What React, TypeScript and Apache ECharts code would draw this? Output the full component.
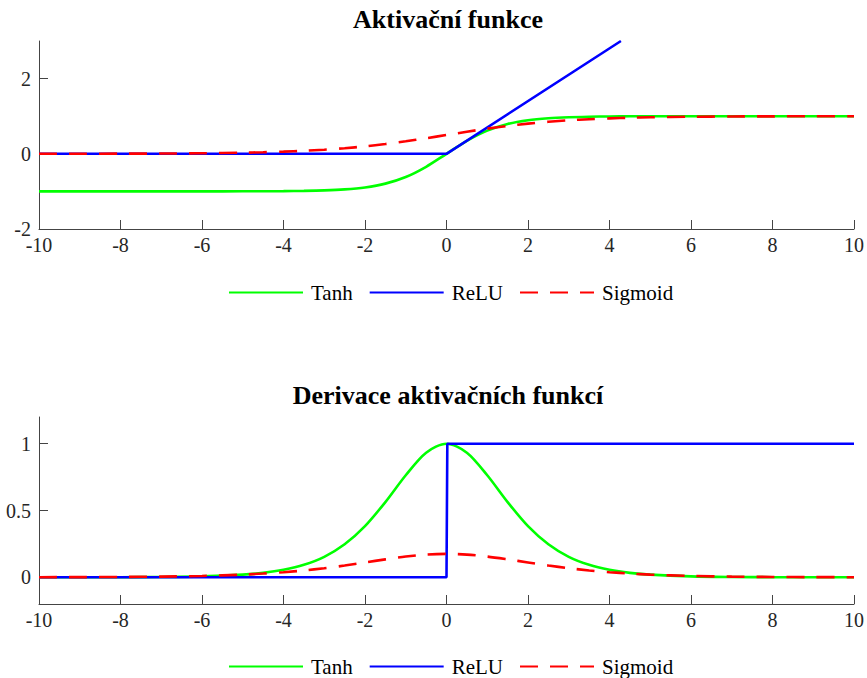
import React, { useEffect, useRef } from 'react';
import * as echarts from 'echarts';

// shared sample positions (x)
const xValues = [-10, -9, -8, -7, -6, -5, -4.5, -4, -3.5, -3, -2.5, -2, -1.5, -1, -0.5, 0, 0.5, 1, 1.5, 2, 2.5, 3, 3.5, 4, 4.5, 5, 6, 7, 8, 9, 10];

// top panel: activation functions
const tanhValues = [-1, -1, -1, -1, -0.9996, -0.998, -0.997, -0.994, -0.987, -0.974, -0.947, -0.894, -0.793, -0.617, -0.345, 0, 0.345, 0.617, 0.793, 0.894, 0.947, 0.974, 0.987, 0.994, 0.997, 0.998, 0.9996, 1, 1, 1, 1];
const sigmoidValues = [0.0009, 0.0018, 0.0037, 0.0074, 0.0148, 0.0293, 0.0411, 0.0573, 0.0794, 0.1091, 0.148, 0.1978, 0.2592, 0.3318, 0.4134, 0.5, 0.5866, 0.6682, 0.7408, 0.8022, 0.852, 0.8909, 0.9206, 0.9427, 0.9589, 0.9707, 0.9852, 0.9926, 0.9963, 0.9982, 0.9991];
const reluX = [-10, 0, 4.28];
const reluValues = [0, 0, 3];

// bottom panel: derivatives
const dTanhValues = [0.0001, 0.0003, 0.0008, 0.0024, 0.007, 0.0197, 0.033, 0.056, 0.093, 0.153, 0.247, 0.383, 0.563, 0.764, 0.933, 1, 0.933, 0.764, 0.563, 0.383, 0.247, 0.153, 0.093, 0.056, 0.033, 0.0197, 0.007, 0.0024, 0.0008, 0.0003, 0.0001];
const dSigmoidValues = [0.0006, 0.0013, 0.0026, 0.005, 0.01, 0.02, 0.028, 0.038, 0.051, 0.068, 0.088, 0.111, 0.134, 0.155, 0.17, 0.175, 0.17, 0.155, 0.134, 0.111, 0.088, 0.068, 0.051, 0.038, 0.028, 0.02, 0.01, 0.005, 0.0026, 0.0013, 0.0006];
const dReluX = [-10, 0, 0.02, 10];
const dReluValues = [0, 0, 1, 1];

// axis ticks / labels
const topYTicks = [-2, 0, 2];
const bottomYTicks = [0, 0.5, 1];
const seriesNames = ['Tanh', 'ReLU', 'Sigmoid'];
const titles = ['Aktivační funkce', 'Derivace aktivačních funkcí'];

const FONT = '"Liberation Serif", "Times New Roman", serif';
const AXIS_COLOR = '#444';
const LABEL_COLOR = '#262626';
const GREEN = '#00ff00';
const BLUE = '#0000ff';
const RED = '#ff0000';

const pairs = (xs: number[], ys: number[]) => xs.map((x, i) => [x, ys[i]]);

function makeXAxis(gridIndex: number) {
  return {
    type: 'value',
    gridIndex,
    min: -10,
    max: 10,
    interval: 2,
    axisLine: { show: true, onZero: false, lineStyle: { color: AXIS_COLOR, width: 1 } },
    axisTick: { show: true, inside: true, length: 9, lineStyle: { color: AXIS_COLOR, width: 1 } },
    axisLabel: { show: true, margin: 6, color: LABEL_COLOR, fontFamily: FONT, fontSize: 20 },
    splitLine: { show: false },
  };
}

function makeYAxis(gridIndex: number, min: number, max: number, ticks: number[]) {
  return {
    type: 'value',
    gridIndex,
    min,
    max,
    axisLine: { show: true, onZero: false, lineStyle: { color: AXIS_COLOR, width: 1 } },
    axisTick: { show: true, inside: true, length: 9, customValues: ticks, lineStyle: { color: AXIS_COLOR, width: 1 } },
    axisLabel: { show: true, margin: 8, color: LABEL_COLOR, fontFamily: FONT, fontSize: 20, customValues: ticks },
    splitLine: { show: false },
  };
}

function lineSeries(name: string, data: number[][], idx: number, color: string, dashed: boolean, smooth: boolean) {
  return {
    type: 'line',
    name,
    xAxisIndex: idx,
    yAxisIndex: idx,
    data,
    symbol: 'none',
    showSymbol: false,
    smooth: smooth ? 0.3 : false,
    lineStyle: { color, width: 2.6, type: dashed ? [18, 12] : 'solid' },
    itemStyle: { color },
    emphasis: { disabled: true },
    z: 2,
  };
}

function makeLegend(top: number) {
  return {
    top,
    left: 228,
    padding: 0,
    orient: 'horizontal',
    data: seriesNames,
    itemWidth: 74,
    itemHeight: 4,
    itemGap: 16,
    selectedMode: false,
    itemStyle: { opacity: 0 },
    textStyle: { fontFamily: FONT, fontSize: 21, color: '#000', padding: [0, 0, 0, 3] },
  };
}

export default function App() {
  const ref = useRef<HTMLDivElement>(null);
  useEffect(() => {
    if (!ref.current) return;
    const chart = echarts.init(ref.current, null, { renderer: 'svg' });
    chart.setOption({
      animation: false,
      backgroundColor: '#ffffff',
      grid: [
        { left: 39, top: 41, width: 816, height: 188, containLabel: false },
        { left: 39, top: 417, width: 816, height: 187, containLabel: false },
      ],
      xAxis: [makeXAxis(0), makeXAxis(1)],
      yAxis: [makeYAxis(0, -2, 3, topYTicks), makeYAxis(1, -0.2, 1.2, bottomYTicks)],
      legend: [makeLegend(282), makeLegend(656)],
      graphic: [
        {
          type: 'text',
          x: 448,
          y: 19,
          style: { text: titles[0], font: `bold 26px ${FONT}`, fill: '#000', align: 'center', verticalAlign: 'middle' },
        },
        {
          type: 'text',
          x: 448,
          y: 395,
          style: { text: titles[1], font: `bold 26px ${FONT}`, fill: '#000', align: 'center', verticalAlign: 'middle' },
        },
      ],
      series: [
        lineSeries('Tanh', pairs(xValues, tanhValues), 0, GREEN, false, true),
        lineSeries('ReLU', pairs(reluX, reluValues), 0, BLUE, false, false),
        lineSeries('Sigmoid', pairs(xValues, sigmoidValues), 0, RED, true, true),
        lineSeries('Tanh', pairs(xValues, dTanhValues), 1, GREEN, false, true),
        lineSeries('ReLU', pairs(dReluX, dReluValues), 1, BLUE, false, false),
        lineSeries('Sigmoid', pairs(xValues, dSigmoidValues), 1, RED, true, true),
      ],
    });
    return () => chart.dispose();
  }, []);
  return <div ref={ref} style={{ position: 'absolute', left: 0, top: 0, width: 867, height: 678 }} />;
}
